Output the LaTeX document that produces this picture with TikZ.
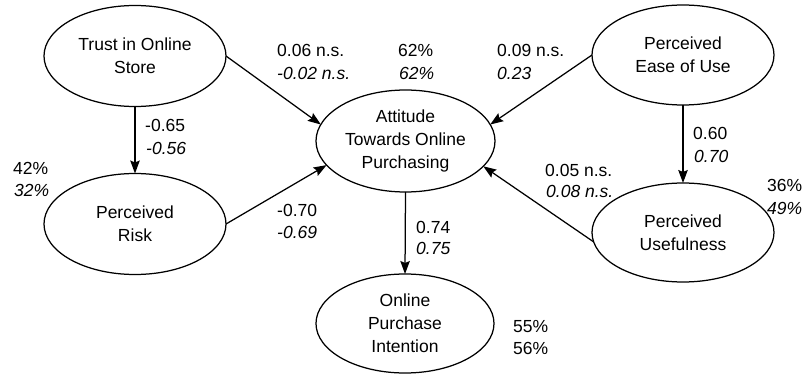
\documentclass[tikz,border=0pt]{standalone}
\usepackage{fontspec}
\setmainfont{Liberation Sans}
\usetikzlibrary{shapes.geometric,arrows.meta}
\begin{document}
\begin{tikzpicture}[x=1pt,y=-1pt,
  every node/.style={font=\fontsize{17.5}{23}\selectfont},
  latent/.style={draw,ellipse,line width=1.25pt,minimum width=182pt,minimum height=101pt,inner sep=0pt,outer sep=0pt,align=center},
  lbl/.style={anchor=base west,inner sep=0pt},
  ilbl/.style={anchor=base west,inner sep=0pt,font=\fontsize{17.5}{23}\selectfont\itshape},
  path/.style={line width=1.25pt,-{Stealth[length=13pt,width=9.5pt,inset=2pt]}}]
\useasboundingbox (0,0) rectangle (806,374);
\node[latent] (trust) at (135,56) {Trust in Online\\Store};
\node[latent] (risk) at (135,224) {Perceived\\Risk};
\node[latent,minimum width=179pt,minimum height=102pt] (att) at (405.5,141) {Attitude\\Towards Online\\Purchasing};
\node[latent,minimum height=100pt] (ease) at (683,55) {Perceived\\Ease of Use};
\node[latent,minimum height=99pt] (use) at (683,232.5) {Perceived\\Usefulness};
\node[latent,minimum width=178pt,minimum height=99pt] (int) at (405,323.5) {Online\\Purchase\\Intention};

\draw[path] (trust.south) -- (risk.north);
\draw[path] (trust.east) -- (att.169);
\draw[path] (risk.east) -- (att.197.5);
\draw[path] (ease.west) -- (att.11);
\draw[path] (use.186) -- (att.-18.3);
\draw[path] (ease.south) -- (use.north);
\draw[path] (att.south) -- (int.north);

\node[lbl] (l1a) at (277,56.3) {0.06 n.s.};
\node[ilbl] (l1b) at (277,79.3) {-0.02 n.s.};
\node[lbl] (l2a) at (398,56.3) {62\%};
\node[ilbl] (l2b) at (399,79.3) {62\%};
\node[lbl] (l3a) at (497,56.3) {0.09 n.s.};
\node[ilbl] (l3b) at (497,79.3) {0.23};
\node[lbl] (l4a) at (145,131.3) {-0.65};
\node[ilbl] (l4b) at (146,154.3) {-0.56};
\node[lbl] (l5a) at (13,174.3) {42\%};
\node[ilbl] (l5b) at (14,196.3) {32\%};
\node[lbl] (l6a) at (277,216.3) {-0.70};
\node[ilbl] (l6b) at (277,238.3) {-0.69};
\node[lbl] (l7a) at (693,139.3) {0.60};
\node[ilbl] (l7b) at (694,162.3) {0.70};
\node[lbl] (l8a) at (545,176.3) {0.05 n.s.};
\node[ilbl] (l8b) at (546,197.3) {0.08 n.s.};
\node[lbl] (l9a) at (767,191.3) {36\%};
\node[ilbl] (l9b) at (767,214.3) {49\%};
\node[lbl] (l10a) at (416,233.3) {0.74};
\node[ilbl] (l10b) at (416,254.3) {0.75};
\node[lbl] (l11a) at (513,332.3) {55\%};
\node[lbl] (l11b) at (513,354.3) {56\%};
\end{tikzpicture}
\end{document}
